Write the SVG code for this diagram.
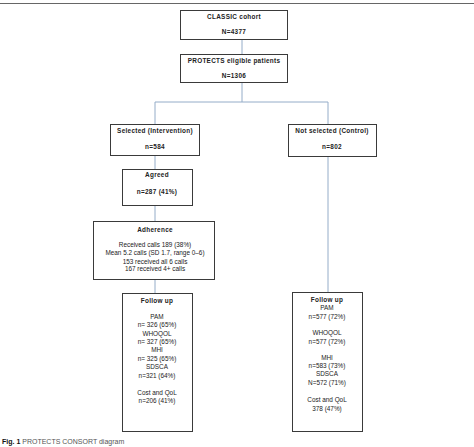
<svg xmlns="http://www.w3.org/2000/svg" width="474" height="447" viewBox="0 0 474 447">
<style>
.box{fill:#fff;stroke:#3a3a3a;stroke-width:1}
.c{fill:none;stroke:#94acc8;stroke-width:1}
text{font-family:"Liberation Sans",Arial,sans-serif;fill:#222;text-anchor:middle}
.b{font-weight:bold;font-size:6.4px;letter-spacing:0.3px}
.n{font-size:6.4px}
</style>
<rect width="474" height="447" fill="#fff"/>
<line x1="0" y1="3.5" x2="474" y2="3.5" stroke="#666" stroke-width="1"/>
<g id="connectors">
<path class="c" d="M242 40V54M242 83V102M155 102H328M155 102V124M328 102V124M155 156V169M155 206V221M155 280V293M328 157V292"/>
</g>
<g id="classic"><rect class="box" x="180.5" y="10.5" width="107" height="29"/>
<text class="b" x="234" y="18.5">CLASSIC cohort</text><text class="b" x="234" y="34">N=4377</text></g>
<g id="protects"><rect class="box" x="180.5" y="54.5" width="107" height="28"/>
<text class="b" x="234" y="63">PROTECTS eligible patients</text><text class="b" x="234" y="78">N=1306</text></g>
<g id="selected"><rect class="box" x="110.5" y="124.5" width="89" height="31"/>
<text class="b" x="155" y="133">Selected (Intervention)</text><text class="b" x="155" y="148.5">n=584</text></g>
<g id="notselected"><rect class="box" x="288.5" y="124.5" width="88" height="32"/>
<text class="b" x="332" y="132.5">Not selected (Control)</text><text class="b" x="332" y="148.5">n=802</text></g>
<g id="agreed"><rect class="box" x="122.5" y="169.5" width="70" height="36"/>
<text class="b" x="157" y="177">Agreed</text><text class="b" x="157" y="193.5">n=287 (41%)</text></g>
<g id="adherence"><rect class="box" x="93.5" y="221.5" width="121" height="58"/>
<text class="b" x="155" y="231.5">Adherence</text>
<text class="n" x="155" y="246.5">Received calls 189 (38%)</text>
<text class="n" x="155" y="255">Mean 5.2 calls (SD 1.7, range 0–6)</text>
<text class="n" x="155" y="263.5">153 received all 6 calls</text>
<text class="n" x="155" y="271">167 received 4+ calls</text></g>
<g id="followup-int"><rect class="box" x="122.5" y="293.5" width="70" height="138"/>
<text class="b" x="157" y="302.5">Follow up</text>
<text class="n" x="157" y="318.5">PAM</text>
<text class="n" x="157" y="326.5">n= 326 (65%)</text>
<text class="n" x="157" y="335.5">WHOQOL</text>
<text class="n" x="157" y="343.5">n= 327 (65%)</text>
<text class="n" x="157" y="352">MHI</text>
<text class="n" x="157" y="360.5">n= 325 (65%)</text>
<text class="n" x="157" y="369">SDSCA</text>
<text class="n" x="157" y="377.5">n=321 (64%)</text>
<text class="n" x="157" y="394.5">Cost and QoL</text>
<text class="n" x="157" y="402.5">n=206 (41%)</text></g>
<g id="followup-ctrl"><rect class="box" x="292.5" y="292.5" width="70" height="139"/>
<text class="b" x="327" y="301.5">Follow up</text>
<text class="n" x="327" y="309.5">PAM</text>
<text class="n" x="327" y="318.5">n=577 (72%)</text>
<text class="n" x="327" y="334.5">WHOQOL</text>
<text class="n" x="327" y="343.5">n=577 (72%)</text>
<text class="n" x="327" y="359.5">MHI</text>
<text class="n" x="327" y="367.5">n=583 (73%)</text>
<text class="n" x="327" y="375.5">SDSCA</text>
<text class="n" x="327" y="384.5">N=572 (71%)</text>
<text class="n" x="327" y="401.5">Cost and QoL</text>
<text class="n" x="327" y="410.5">378 (47%)</text></g>
<text x="2" y="444" style="text-anchor:start;font-size:7px"><tspan font-weight="bold" fill="#111">Fig. 1</tspan><tspan fill="#555"> PROTECTS CONSORT diagram</tspan></text>
</svg>
